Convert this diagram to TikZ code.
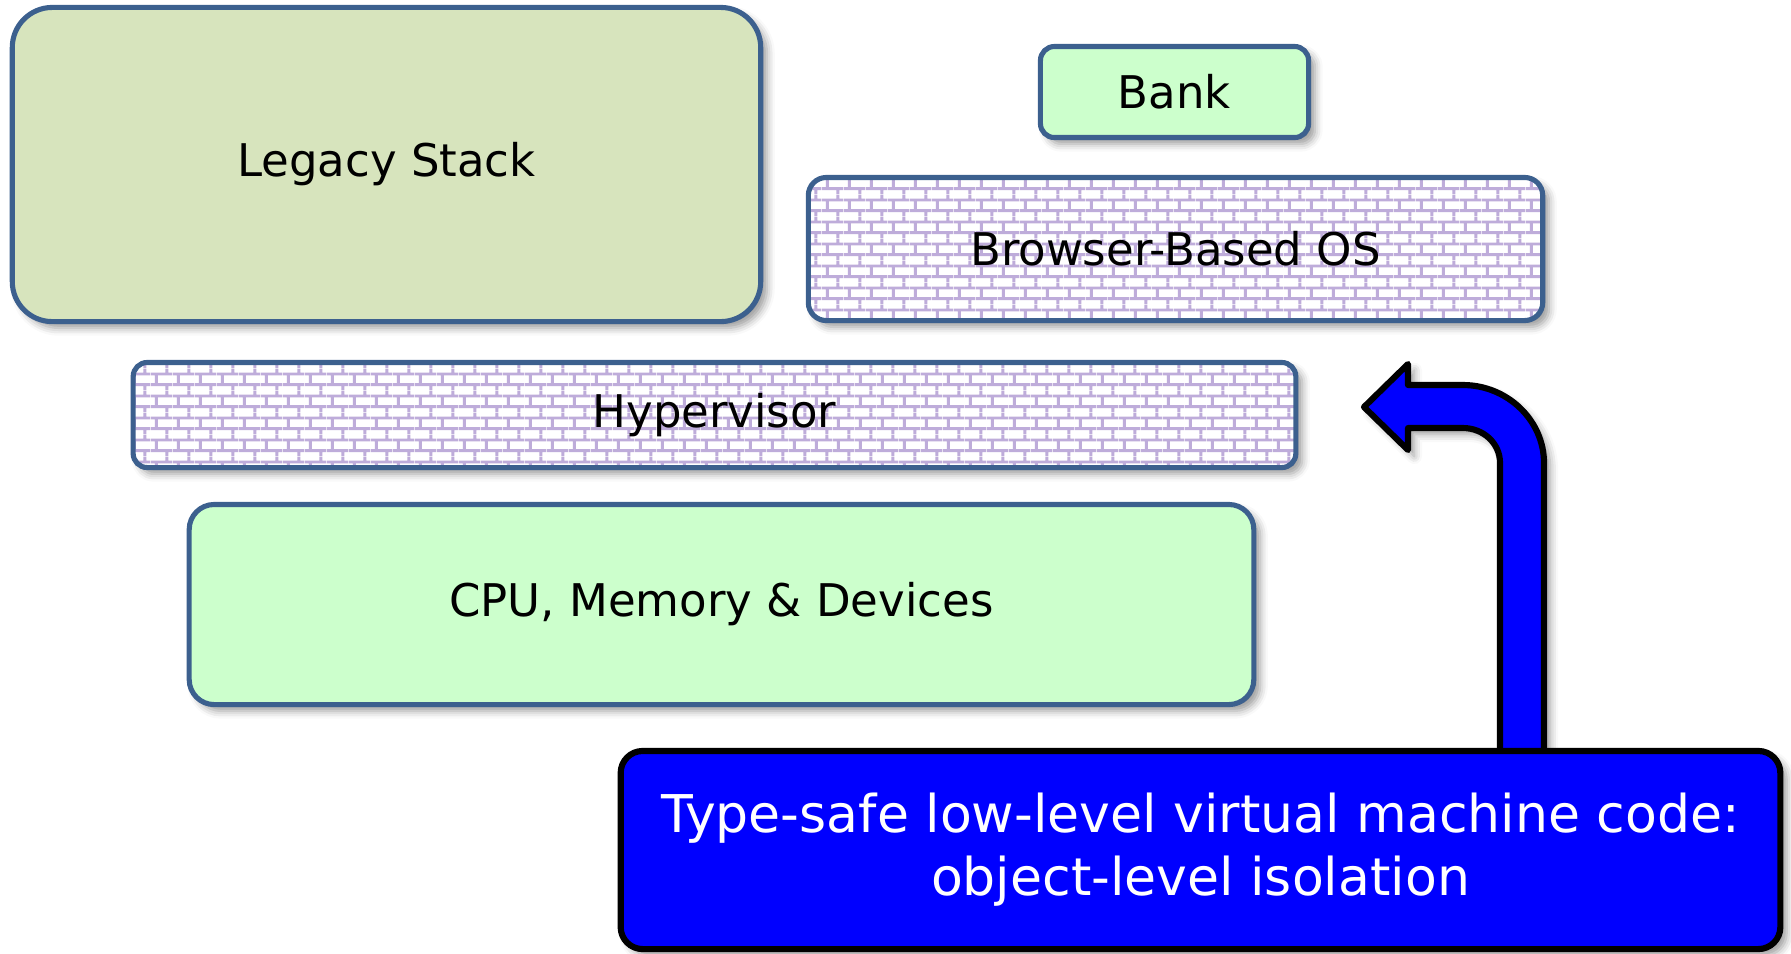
\documentclass[tikz,border=0pt]{standalone}
\usepackage{fontspec}
\newfontfamily\labelfont{DejaVu Sans}
\usetikzlibrary{shadows.blur,patterns}

% brick wall: 21.6px wide bricks, 10.8px rows, half-brick offset
\pgfdeclarepatternformonly{brickwall}{\pgfpointorigin}{\pgfpoint{6.15pt}{6.15pt}}{\pgfpoint{6.15pt}{6.15pt}}{%
  \pgfsetlinewidth{0.85pt}%
  \pgfpathmoveto{\pgfpoint{0pt}{1.5375pt}}\pgfpathlineto{\pgfpoint{6.15pt}{1.5375pt}}%
  \pgfpathmoveto{\pgfpoint{0pt}{4.6125pt}}\pgfpathlineto{\pgfpoint{6.15pt}{4.6125pt}}%
  \pgfpathmoveto{\pgfpoint{1.5375pt}{1.5375pt}}\pgfpathlineto{\pgfpoint{1.5375pt}{4.6125pt}}%
  \pgfpathmoveto{\pgfpoint{4.6125pt}{4.6125pt}}\pgfpathlineto{\pgfpoint{4.6125pt}{6.15pt}}%
  \pgfpathmoveto{\pgfpoint{4.6125pt}{0pt}}\pgfpathlineto{\pgfpoint{4.6125pt}{1.5375pt}}%
  \pgfusepath{stroke}%
}

\definecolor{edgeblue}{RGB}{60,96,142}
\definecolor{olivefill}{RGB}{215,228,189}
\definecolor{mintfill}{RGB}{204,255,204}
\definecolor{mortar}{RGB}{190,172,218}
\definecolor{purebl}{RGB}{0,0,255}

\tikzset{
  softshadow/.style={blur shadow={shadow xshift=1.8pt, shadow yshift=-1.8pt,
      shadow blur radius=2.2pt, shadow opacity=40}},
  layer/.style={draw=edgeblue, line width=1.45pt, softshadow, inner sep=0pt,
      font=\labelfont\fontsize{12.8}{15}\selectfont, text=black},
  solidlayer/.style={layer, fill=mintfill},
  brickwallbox/.style={layer, preaction={fill=white}, pattern=brickwall, pattern color=mortar},
  callout/.style={draw=black, line width=1.75pt, fill=purebl, softshadow, inner sep=0pt,
      rounded corners=0.22cm, text=white, align=center,
      font=\labelfont\fontsize{14.8}{17.9}\selectfont},
  blockarrow/.style={draw=black, line width=1.75pt, fill=purebl, softshadow, line join=round},
}

\begin{document}
\begin{tikzpicture}[x=0.01cm, y=-0.01cm]
  \useasboundingbox (0,0) rectangle (1791,953);

  % software and hardware layers
  \node[layer, fill=olivefill, rounded corners=0.4cm,
        minimum width=7.48cm, minimum height=3.14cm] (legacy) at (386.5,164.5) {Legacy Stack};
  \node[solidlayer, rounded corners=0.14cm,
        minimum width=2.68cm, minimum height=0.91cm] (bank) at (1174.5,92) {Bank};
  \node[brickwallbox, rounded corners=0.18cm,
        minimum width=7.34cm, minimum height=1.43cm] (browser) at (1175.5,249) {Browser-Based OS};
  \node[brickwallbox, rounded corners=0.14cm,
        minimum width=11.62cm, minimum height=1.05cm] (hyper) at (714.5,415) {Hypervisor};
  \node[solidlayer, rounded corners=0.25cm,
        minimum width=10.64cm, minimum height=2.0cm] (cpu) at (721.5,604.5) {CPU, Memory \& Devices};

  % bent block arrow rising from the callout
  \coordinate (shaftL) at (1500,752);
  \coordinate (shaftR) at (1544,752);
  \coordinate (tip) at (1364,407);
  \draw[blockarrow]
    (shaftL) -- (1500,463) .. controls (1500,443) and (1483,428) .. (1463,428)
    -- (1408,428) -- (1408,450) -- (tip) -- (1408,364) -- (1408,385)
    -- (1463,385) .. controls (1507,385) and (1544,420) .. (1544,463)
    -- (shaftR) -- cycle;

  % callout box
  \node[callout, minimum width=11.59cm, minimum height=1.98cm] (note) at (1200.5,850)
    {Type-safe low-level virtual machine code:\\object-level isolation};
\end{tikzpicture}
\end{document}
